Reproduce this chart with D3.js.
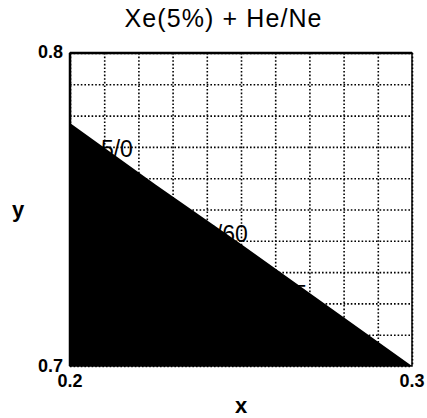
<!DOCTYPE html>
<html>
<head>
<meta charset="utf-8">
<script src="https://cdn.jsdelivr.net/npm/d3@7"></script>
<style>
  body { margin: 0; background: #fff; }
  text { font-family: "Liberation Sans", Arial, sans-serif; fill: #000; }
</style>
</head>
<body>
<div id="chart"></div>
<script>
// boundary of the filled region (x, y)
var boundaryX = [0.2, 0.225, 0.25, 0.275, 0.3];
var boundaryY = [0.7776, 0.758, 0.739, 0.7195, 0.7];
var xTicks = [0.2, 0.3];
var yTicks = [0.7, 0.8];
var curveLabels = ["5/0", "5/60", "5"];
var labelX = [0.2184, 0.2520, 0.2693];
var labelY = [0.7668, 0.7395, 0.7205];

var svgWidth = 427, svgHeight = 418;
var margin = { top: 53, right: 15, bottom: 52, left: 70 };
var width = svgWidth - margin.left - margin.right;
var height = svgHeight - margin.top - margin.bottom;

var svg = d3.select('#chart')
  .append('svg')
  .attr('width', svgWidth)
  .attr('height', svgHeight);

var g = svg.append('g')
  .attr('transform', 'translate(' + margin.left + ',' + margin.top + ')');

var x = d3.scaleLinear().domain([0.2, 0.3]).range([0, width]);
var y = d3.scaleLinear().domain([0.7, 0.8]).range([height, 0]);

// dotted grid
g.append('g')
  .call(d3.axisBottom(x).ticks(10).tickSize(height).tickFormat(''))
  .call(function(a) {
    a.select('.domain').remove();
    a.selectAll('line').attr('stroke', '#000').attr('stroke-width', 1.6).attr('stroke-dasharray', '1.6,2');
  });
g.append('g')
  .call(d3.axisLeft(y).ticks(10).tickSize(-width).tickFormat(''))
  .call(function(a) {
    a.select('.domain').remove();
    a.selectAll('line').attr('stroke', '#000').attr('stroke-width', 1.6).attr('stroke-dasharray', '1.6,2');
  });

// curve labels, partly covered by the fill
g.selectAll('.clabel')
  .data(curveLabels)
  .enter().append('text')
  .attr('class', 'clabel')
  .attr('x', function(d, i) { return x(labelX[i]); })
  .attr('y', function(d, i) { return y(labelY[i]); })
  .attr('text-anchor', 'end')
  .style('font-size', '23px')
  .text(function(d) { return d; });

// filled region below the boundary
var pts = boundaryX.map(function(v, i) { return [v, boundaryY[i]]; });
var area = d3.area()
  .x(function(d) { return x(d[0]); })
  .y0(height)
  .y1(function(d) { return y(d[1]); });
g.append('path')
  .datum(pts)
  .attr('d', area)
  .attr('fill', '#000');

// frame
g.append('rect')
  .attr('width', width)
  .attr('height', height)
  .attr('fill', 'none')
  .attr('stroke', '#000')
  .attr('stroke-width', 1.5);
g.append('line')
  .attr('x1', 0).attr('x2', width).attr('y1', 0).attr('y2', 0)
  .attr('stroke', '#000').attr('stroke-width', 2.5);
g.append('line')
  .attr('x1', 0).attr('x2', 0).attr('y1', 0).attr('y2', height)
  .attr('stroke', '#000').attr('stroke-width', 2.5);

// tick labels
g.selectAll('.xt')
  .data(xTicks)
  .enter().append('text')
  .attr('x', function(d) { return x(d); })
  .attr('y', height + 21)
  .attr('text-anchor', 'middle')
  .style('font-size', '18px')
  .style('font-weight', 'bold')
  .text(function(d) { return d3.format('.1f')(d); });
g.selectAll('.yt')
  .data(yTicks)
  .enter().append('text')
  .attr('x', -7)
  .attr('y', function(d) { return y(d) + (d === 0.7 ? 6 : 5); })
  .attr('text-anchor', 'end')
  .style('font-size', '18px')
  .style('font-weight', 'bold')
  .text(function(d) { return d3.format('.1f')(d); });

// axis titles
svg.append('text')
  .attr('x', margin.left + width / 2)
  .attr('y', 413)
  .attr('text-anchor', 'middle')
  .style('font-size', '22px')
  .style('font-weight', 'bold')
  .text('x');
svg.append('text')
  .attr('x', 18)
  .attr('y', 217)
  .attr('text-anchor', 'middle')
  .style('font-size', '22px')
  .style('font-weight', 'bold')
  .text('y');

svg.append('text')
  .attr('x', 223)
  .attr('y', 27)
  .attr('text-anchor', 'middle')
  .attr('textLength', 197)
  .style('font-size', '25px')
  .text('Xe(5%) + He/Ne');
</script>
</body>
</html>
